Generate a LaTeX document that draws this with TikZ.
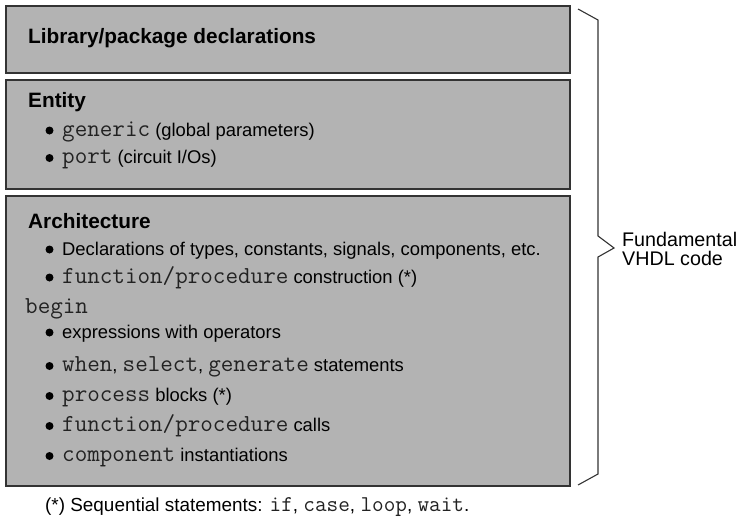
\documentclass[tikz,border=0pt]{standalone}
\usepackage{fontspec}
\setmainfont{Liberation Sans}
\definecolor{boxfill}{HTML}{B3B3B3}
\definecolor{boxline}{HTML}{333333}
\definecolor{codecol}{HTML}{222222}
\begin{document}
\begin{tikzpicture}[x=1pt,y=-1pt,
  blk/.style={draw=boxline,line width=1.3pt,fill=boxfill},
  txt/.style={anchor=base west,inner sep=0pt,font=\fontsize{18.4}{20}\selectfont},
  hd/.style={txt,font=\fontsize{20.8}{22}\selectfont\bfseries},
  dot/.style={circle,fill=black,inner sep=0pt,minimum size=8pt},
  brace/.style={draw=black!80,line width=1.1pt,line join=miter}]
\useasboundingbox (0,0) rectangle (738,517);
\newcommand\cc[1]{{\fontsize{24.4}{25}\selectfont\color{codecol}\texttt{#1}}}
\newcommand\cs[1]{{\fontsize{22.6}{23}\selectfont\color{codecol}\texttt{#1}}}
\draw[blk] (6,6) rectangle (570,73);
\draw[blk] (6,80) rectangle (570,189);
\draw[blk] (6,196) rectangle (570,486);
\node[hd] (lib) at (28,43) {Library/package declarations};
\node[hd] (ent) at (28,107) {Entity};
\node[dot] (d1) at (49.5,130.5) {};
\node[txt] (g1) at (62,136) {\cc{generic} (global parameters)};
\node[dot] (d2) at (49.5,158) {};
\node[txt] (g2) at (62,163.5) {\cc{port} (circuit I/Os)};
\node[hd] (arc) at (28,228) {Architecture};
\node[dot] (d3) at (49.5,249.5) {};
\node[txt] (a1) at (62,255) {Declarations of types, constants, signals, components, etc.};
\node[dot] (d4) at (49.5,277.5) {};
\node[txt] (a2) at (62,283) {\cc{function/procedure} construction (*)};
\node[txt] (bg) at (25,313) {\cc{begin}};
\node[dot] (d5) at (49.5,332.5) {};
\node[txt] (b1) at (62,338) {expressions with operators};
\node[dot] (d6) at (49.5,366) {};
\node[txt] (b2) at (62,371.5) {\cc{when}, \cc{select}, \cc{generate} statements};
\node[dot] (d7) at (49.5,396) {};
\node[txt] (b3) at (62,401.5) {\cc{process} blocks (*)};
\node[dot] (d8) at (49.5,426) {};
\node[txt] (b4) at (62,431.5) {\cc{function/procedure} calls};
\node[dot] (d9) at (49.5,456) {};
\node[txt] (b5) at (62,461.5) {\cc{component} instantiations};
\node[txt,font=\fontsize{18.9}{20}\selectfont] (fn) at (45,511) {(*) Sequential statements: \cs{if}, \cs{case}, \cs{loop}, \cs{wait}.};
\coordinate (bt) at (578,9);
\coordinate (bb) at (578,485);
\coordinate (bp) at (614,248);
\draw[brace] (bt) -- (598,20) -- (598,236) -- (bp) -- (598,257) -- (598,474) -- (bb);
\node[txt,font=\fontsize{19.7}{21}\selectfont] (f1) at (622,246.5) {Fundamental};
\node[txt,font=\fontsize{19.7}{21}\selectfont] (f2) at (622,265) {VHDL code};
\end{tikzpicture}
\end{document}
